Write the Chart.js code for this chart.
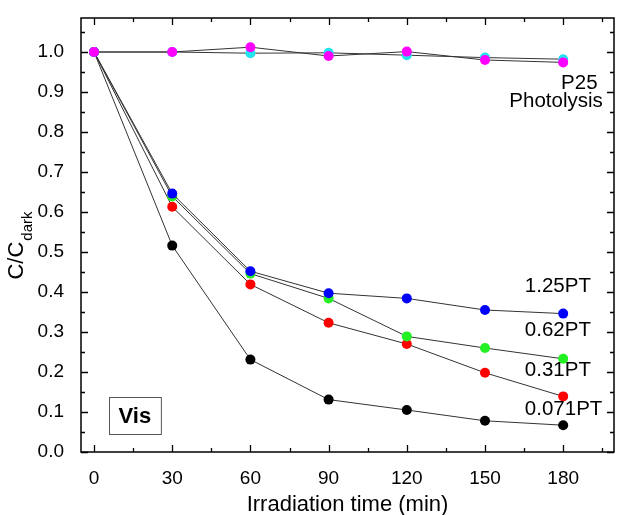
<!DOCTYPE html>
<html>
<head>
<meta charset="utf-8">
<script src="https://cdn.jsdelivr.net/npm/chart.js@4.4.1/dist/chart.umd.min.js"></script>
<style>
html, body { margin: 0; padding: 0; background: #fff; }
#wrap { width: 619px; height: 515px; }
</style>
</head>
<body>
<div id="wrap"><canvas id="decayChart"></canvas></div>
<script>
// irradiation times (min)
const times = [0, 30, 60, 90, 120, 150, 180];
const xTickValues = [0, 30, 60, 90, 120, 150, 180];
const yTickValues = [0, 0.1, 0.2, 0.3, 0.4, 0.5, 0.6, 0.7, 0.8, 0.9, 1.0];

// C/Cdark values
const p25        = [1.0, 1.0, 1.012, 0.990, 1.001, 0.980, 0.974];
const photolysis = [1.0, 1.0, 0.997, 0.998, 0.992, 0.986, 0.982];
const pt125      = [1.0, 0.646, 0.452, 0.397, 0.384, 0.355, 0.346];
const pt062      = [1.0, 0.639, 0.446, 0.384, 0.289, 0.260, 0.233];
const pt031      = [1.0, 0.613, 0.419, 0.323, 0.270, 0.198, 0.139];
const pt0071     = [1.0, 0.516, 0.231, 0.131, 0.105, 0.078, 0.067];

const seriesNames = ['P25', 'Photolysis', '1.25PT', '0.62PT', '0.31PT', '0.071PT'];

const FONT = "'Liberation Sans', Arial, sans-serif";

function makeSet(label, values, color) {
    return {
        label: label,
        data: times.map((t, i) => ({ x: t, y: values[i] })),
        borderColor: '#333',
        borderWidth: 1,
        pointRadius: 5,
        pointHoverRadius: 5,
        pointBackgroundColor: color,
        pointBorderColor: color,
        pointBorderWidth: 0,
        tension: 0
    };
}

// text annotations, placed in data coordinates
const notes = [
    { text: 'P25',        x: 193.2, y: 0.921, align: 'right' },
    { text: 'Photolysis', x: 195.2, y: 0.876, align: 'right' },
    { text: '1.25PT',     x: 165.3, y: 0.414, align: 'left' },
    { text: '0.62PT',     x: 165.3, y: 0.304, align: 'left' },
    { text: '0.31PT',     x: 165.3, y: 0.204, align: 'left' },
    { text: '0.071PT',    x: 165.3, y: 0.106, align: 'left' }
];

const decorations = {
    id: 'decorations',
    afterDraw(chart) {
        const { ctx, chartArea: a, scales: { x, y } } = chart;
        ctx.save();

        // frame
        ctx.strokeStyle = '#000';
        ctx.lineWidth = 1.5;
        ctx.strokeRect(a.left, a.top, a.right - a.left, a.bottom - a.top);

        // inward ticks on all four sides
        ctx.lineWidth = 1.3;
        ctx.beginPath();
        for (let v = 0; v <= 195; v += 15) {
            const px = Math.round(x.getPixelForValue(v)) + 0.5;
            const len = v % 30 === 0 ? 7 : 4;
            ctx.moveTo(px, a.bottom); ctx.lineTo(px, a.bottom - len);
            ctx.moveTo(px, a.top); ctx.lineTo(px, a.top + len);
        }
        for (let k = 0; k <= 21; k++) {
            const py = Math.round(y.getPixelForValue(k * 0.05)) + 0.5;
            const len = k % 2 === 0 ? 7 : 4;
            ctx.moveTo(a.left, py); ctx.lineTo(a.left + len, py);
            ctx.moveTo(a.right, py); ctx.lineTo(a.right - len, py);
        }
        ctx.stroke();

        // series labels
        ctx.fillStyle = '#000';
        ctx.font = '20.5px ' + FONT;
        ctx.textBaseline = 'middle';
        notes.forEach(n => {
            ctx.textAlign = n.align;
            ctx.fillText(n.text, x.getPixelForValue(n.x), y.getPixelForValue(n.y));
        });

        // "Vis" box
        const bx1 = x.getPixelForValue(5.7), bx2 = x.getPixelForValue(25.6);
        const by1 = y.getPixelForValue(0.1375), by2 = y.getPixelForValue(0.045);
        ctx.strokeStyle = '#555';
        ctx.lineWidth = 1;
        ctx.strokeRect(Math.round(bx1) + 0.5, Math.round(by1) + 0.5, bx2 - bx1, by2 - by1);
        ctx.font = 'bold 22px ' + FONT;
        ctx.textAlign = 'center';
        ctx.fillText('Vis', (bx1 + bx2) / 2, (by1 + by2) / 2 + 1);

        // y axis title with subscript
        ctx.translate(23, 246);
        ctx.rotate(-Math.PI / 2);
        ctx.textBaseline = 'alphabetic';
        ctx.textAlign = 'left';
        ctx.font = '22px ' + FONT;
        const main = 'C/C';
        const w1 = ctx.measureText(main).width;
        ctx.font = '15px ' + FONT;
        const w2 = ctx.measureText('dark').width;
        const start = -(w1 + w2) / 2;
        ctx.font = '22px ' + FONT;
        ctx.fillText(main, start, 0);
        ctx.font = '15px ' + FONT;
        ctx.fillText('dark', start + w1 + 1, 9);

        ctx.restore();
    }
};

const ctx = document.getElementById('decayChart').getContext('2d');
const decayChart = new Chart(ctx, {
    type: 'line',
    data: {
        datasets: [
            makeSet(seriesNames[0], p25, '#ff00ff'),
            makeSet(seriesNames[1], photolysis, '#22e3ee'),
            makeSet(seriesNames[2], pt125, '#0000ff'),
            makeSet(seriesNames[3], pt062, '#22f022'),
            makeSet(seriesNames[4], pt031, '#ff0000'),
            makeSet(seriesNames[5], pt0071, '#000000')
        ]
    },
    options: {
        responsive: true,
        maintainAspectRatio: false,
        animation: false,
        layout: { padding: { top: 18, right: 1.5, left: 0, bottom: 0 } },
        plugins: {
            legend: { display: false },
            tooltip: { enabled: false }
        },
        scales: {
            x: {
                type: 'linear',
                min: -5,
                max: 199.5,
                afterBuildTicks: s => { s.ticks = xTickValues.map(v => ({ value: v })); },
                afterFit: s => {
                    s.height = 63;
                    s.paddingLeft = 0; s.paddingRight = 0;
                },
                grid: { display: false },
                border: { display: false },
                ticks: {
                    color: '#000',
                    font: { family: FONT, size: 19 },
                    padding: 7,
                    maxRotation: 0
                },
                title: {
                    display: true,
                    text: 'Irradiation time (min)',
                    color: '#000',
                    font: { family: FONT, size: 22, lineHeight: 0.9 },
                    padding: 0
                }
            },
            y: {
                type: 'linear',
                min: 0,
                max: 1.085,
                afterBuildTicks: s => { s.ticks = yTickValues.map(v => ({ value: v })); },
                afterFit: s => {
                    s.width = 81;
                    s.paddingTop = 0; s.paddingBottom = 0;
                },
                grid: { display: false },
                border: { display: false },
                ticks: {
                    color: '#000',
                    font: { family: FONT, size: 19 },
                    padding: 9,
                    callback: v => v.toFixed(1)
                }
            }
        }
    },
    plugins: [decorations]
});
</script>
</body>
</html>
